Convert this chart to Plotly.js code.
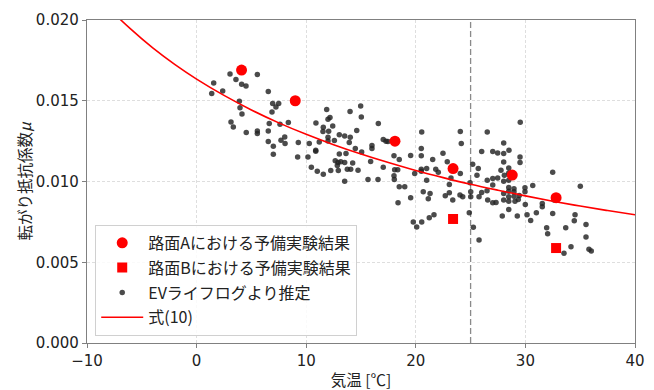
<!DOCTYPE html>
<html>
<head>
<meta charset="utf-8">
<script src="https://cdn.plot.ly/plotly-3.0.1.min.js"></script>
<style>html,body{margin:0;padding:0;background:#fff;}#chart{width:654px;height:390px;}</style>
</head>
<body>
<div id="chart"></div>
<script>
// Road surface A (preliminary experiment)
const roadA_T  = [4.1, 9.0, 18.1, 23.4, 28.8, 32.8];
const roadA_mu = [0.0169, 0.0150, 0.0125, 0.0108, 0.0104, 0.0090];
// Road surface B (preliminary experiment)
const roadB_T  = [23.4, 32.8];
const roadB_mu = [0.00768, 0.00588];
// Estimated from EV life log
const ev_T = [3.05,3.59,4.11,4.51,5.54,1.56,1.38,2.38,6.54,3.90,3.96,4.14,6.94,7.49,7.24,6.88,3.14,3.35,4.53,5.54,5.54,6.54,6.63,7.61,8.37,6.54,7.00,7.70,8.04,8.07,7.00,
11.87,14.97,14.00,15.03,12.17,11.99,10.89,11.56,11.53,12.42,12.05,16.58,14.61,13.02,13.51,14.02,11.99,11.99,12.57,13.93,11.19,9.28,10.28,10.87,10.87,14.48,15.06,16.00,16.00,13.63,13.02,9.22,10.16,12.65,12.90,13.15,13.51,14.24,12.84,15.88,17.03,10.47,11.01,11.56,12.24,12.93,13.75,14.06,14.73,13.51,15.64,16.55,
17.03,17.28,17.46,20.54,24.06,24.15,20.50,18.01,18.49,19.53,20.50,22.48,21.54,22.87,18.07,18.35,18.01,18.04,19.90,20.50,20.50,20.99,21.82,22.05,24.06,20.99,23.21,25.19,24.95,18.49,18.99,19.53,18.38,20.68,21.30,21.14,23.06,23.06,22.69,23.37,24.03,24.28,25.01,25.01,19.77,20.08,20.54,21.23,21.66,24.88,25.25,
29.53,26.52,28.02,26.01,27.02,27.47,28.02,28.50,29.51,29.51,28.02,25.70,27.77,28.48,28.48,25.58,28.08,26.52,27.02,27.47,28.02,28.48,32.49,27.02,28.48,28.48,28.96,28.96,29.96,29.96,30.67,26.01,25.77,26.50,28.02,28.48,28.96,29.44,29.35,26.56,27.02,27.32,28.02,28.48,29.05,29.99,31.54,31.54,32.61,28.48,27.89,29.26,30.15,30.48,31.00,32.49,25.77,31.94,32.03,
35.01,34.53,34.46,35.53,33.68,35.53,34.16,33.52,35.80,36.01];
const ev_mu = [0.01666,0.01631,0.01602,0.01592,0.01662,0.01610,0.01545,0.01561,0.01557,0.01497,0.01456,0.01418,0.01483,0.01483,0.01462,0.01431,0.01369,0.01338,0.01303,0.01313,0.01297,0.01313,0.01359,0.01355,0.01365,0.01248,0.01219,0.01256,0.01276,0.01235,0.01169,
0.01446,0.01468,0.01433,0.01400,0.01396,0.01386,0.01363,0.01336,0.01310,0.01344,0.01311,0.01359,0.01316,0.01289,0.01282,0.01274,0.01274,0.01251,0.01254,0.01242,0.01245,0.01242,0.01235,0.01194,0.01188,0.01204,0.01183,0.01223,0.01204,0.01173,0.01171,0.01152,0.01152,0.01128,0.01118,0.01122,0.01118,0.01115,0.01099,0.01124,0.01089,0.01089,0.01064,0.01045,0.01068,0.01068,0.01076,0.01076,0.01070,0.01002,0.01013,0.01013,
0.01260,0.01250,0.01248,0.01307,0.01310,0.01235,0.01204,0.01159,0.01136,0.01161,0.01159,0.01175,0.01136,0.01122,0.01072,0.01072,0.01035,0.01013,0.01050,0.01076,0.01064,0.01081,0.01076,0.01058,0.01050,0.01008,0.01021,0.01107,0.00992,0.00967,0.00967,0.00899,0.00868,0.00936,0.00926,0.00893,0.00982,0.00930,0.00911,0.00885,0.00916,0.00905,0.00936,0.00905,0.00749,0.00719,0.00749,0.00775,0.00794,0.00806,0.00716,
0.01367,0.01307,0.01239,0.01186,0.01186,0.01177,0.01173,0.01194,0.01151,0.01118,0.01120,0.01081,0.01070,0.01084,0.01053,0.01039,0.01039,0.01008,0.01019,0.01021,0.01002,0.01008,0.01058,0.00979,0.00963,0.00940,0.00955,0.00936,0.00961,0.00936,0.00976,0.00932,0.00905,0.00942,0.00926,0.00905,0.00909,0.00914,0.00889,0.00885,0.00868,0.00870,0.00885,0.00878,0.00878,0.00858,0.00864,0.00843,0.00885,0.00827,0.00787,0.00786,0.00794,0.00759,0.00806,0.00802,0.00637,0.00713,0.00676,
0.00971,0.00794,0.00757,0.00734,0.00713,0.00656,0.00596,0.00555,0.00580,0.00569];
// Eq. (10) curve
const eq_T  = [-10,-8,-6,-4,-2,0,2.5,5,7.5,10,12.5,15,17.5,20,22.5,25,27.5,30,32.5,35,37.5,40];
const eq_mu = [0.02222,0.02073,0.01943,0.01827,0.01725,0.01634,0.01533,0.01443,0.01363,0.01292,0.01228,0.01170,0.01117,0.01068,0.01024,0.00983,0.00946,0.00911,0.00878,0.00848,0.00820,0.00794];
// Reference temperature (vertical dashed line)
const refTemp = 25;
// Tick values
const xTicks = [-10,0,10,20,30,40];
const yTicks = [0.000,0.005,0.010,0.015,0.020];

const labels = ['路面Aにおける予備実験結果','路面Bにおける予備実験結果','EVライフログより推定','式(10)'];

const traces = [
  {x: ev_T, y: ev_mu, mode: 'markers', type: 'scatter', name: labels[2], legendgroup: 'g3', legendrank: 3,
   marker: {color: 'rgba(35,35,35,0.82)', size: 5.5}},
  {x: eq_T, y: eq_mu, mode: 'lines', type: 'scatter', name: labels[3], legendgroup: 'g4', legendrank: 4,
   line: {color: '#ff0000', width: 1.6, shape: 'spline'}},
  {x: roadA_T, y: roadA_mu, mode: 'markers', type: 'scatter', name: labels[0], legendgroup: 'g1', legendrank: 1,
   marker: {color: '#ff0000', size: 11, symbol: 'circle'}},
  {x: roadB_T, y: roadB_mu, mode: 'markers', type: 'scatter', name: labels[1], legendgroup: 'g2', legendrank: 2,
   marker: {color: '#ff0000', size: 10, symbol: 'square'}}
];

const tickFont = {family: 'DejaVu Sans, Noto Sans CJK JP, sans-serif', size: 15, color: '#222'};
const layout = {
  width: 654, height: 390,
  margin: {l: 87, r: 19, t: 20, b: 47},
  paper_bgcolor: '#fff', plot_bgcolor: '#fff',
  showlegend: true,
  xaxis: {
    range: [-10, 40], tickvals: xTicks, ticktext: xTicks.map(v => v < 0 ? '\u2212' + Math.abs(v) : String(v)),
    tickfont: tickFont, ticks: 'outside', ticklen: 4, tickcolor: '#808080',
    showline: true, linecolor: '#808080', linewidth: 1.2, mirror: true,
    showgrid: true, gridcolor: '#d6d6d6', griddash: '3px,2px', gridwidth: 0.8, zeroline: false,
    title: {text: '気温 [℃]', font: {family: 'Noto Sans CJK JP, sans-serif', size: 15.5, color: '#222'}, standoff: 6}
  },
  yaxis: {
    range: [0, 0.02], tickvals: yTicks, ticktext: yTicks.map(v => v.toFixed(3)),
    tickfont: tickFont, ticks: 'outside', ticklen: 4, tickcolor: '#808080',
    showline: true, linecolor: '#808080', linewidth: 1.2, mirror: true,
    showgrid: true, gridcolor: '#d6d6d6', griddash: '3px,2px', gridwidth: 0.8, zeroline: false,
    title: {text: '転がり抵抗係数<i>μ</i>', font: {family: 'Noto Sans CJK JP, sans-serif', size: 15.5, color: '#222'}, standoff: 0}
  },
  legend: {
    x: 0.015, y: 0.022, xanchor: 'left', yanchor: 'bottom',
    bgcolor: 'rgba(255,255,255,0.85)', bordercolor: '#d0d0d0', borderwidth: 1,
    font: {family: 'Noto Sans CJK JP, sans-serif', size: 16, color: '#222'},
    tracegroupgap: 1, itemwidth: 42
  },
  shapes: [{
    type: 'line', xref: 'x', yref: 'paper', x0: refTemp, x1: refTemp, y0: 0, y1: 1,
    line: {color: '#8a8a8a', width: 1.3, dash: '6px,3px'}, layer: 'below'
  }]
};

Plotly.newPlot('chart', traces, layout, {staticPlot: true, displayModeBar: false});
</script>
</body>
</html>
